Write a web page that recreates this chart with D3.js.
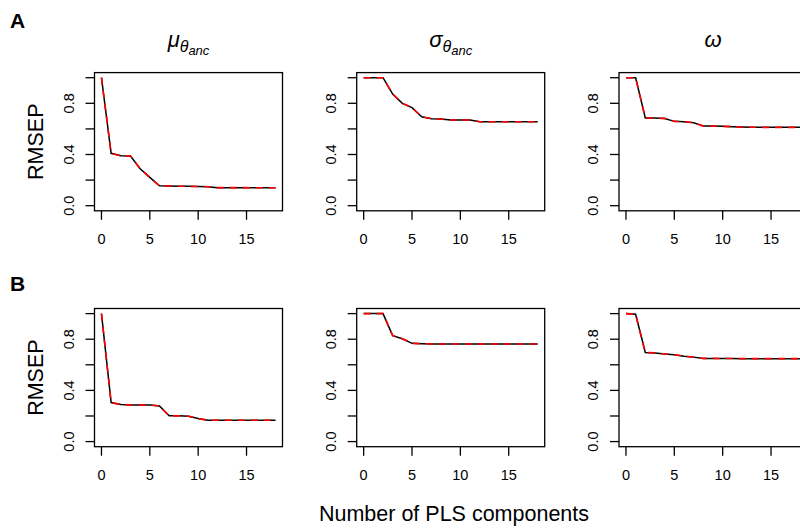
<!DOCTYPE html>
<html>
<head>
<meta charset="utf-8">
<script src="https://cdn.jsdelivr.net/npm/d3@7"></script>
<style>
  body { margin: 0; background: #fff; }
  svg { font-family: "Liberation Sans", Arial, sans-serif; }
</style>
</head>
<body>
<div id="chart"></div>
<script>
// number of PLS components
var comps = d3.range(0, 19);

// RMSEP, row A (CV and adjCV)
var muCV_A    = [1.00, 0.409, 0.390, 0.388, 0.289, 0.221, 0.156, 0.154, 0.152, 0.151, 0.150, 0.148, 0.141, 0.141, 0.141, 0.141, 0.140, 0.140, 0.140];
var muAdj_A   = [1.00, 0.409, 0.390, 0.388, 0.289, 0.221, 0.156, 0.154, 0.152, 0.151, 0.150, 0.148, 0.141, 0.141, 0.141, 0.141, 0.140, 0.140, 0.140];
var sigCV_A   = [1.00, 1.00, 1.00, 0.872, 0.800, 0.766, 0.695, 0.680, 0.677, 0.669, 0.669, 0.669, 0.656, 0.656, 0.656, 0.656, 0.656, 0.656, 0.656];
var sigAdj_A  = [1.00, 1.00, 1.00, 0.872, 0.800, 0.766, 0.695, 0.680, 0.677, 0.669, 0.669, 0.669, 0.656, 0.656, 0.656, 0.656, 0.656, 0.656, 0.656];
var omCV_A    = [1.00, 1.00, 0.685, 0.685, 0.682, 0.659, 0.656, 0.648, 0.622, 0.622, 0.620, 0.617, 0.615, 0.613, 0.612, 0.612, 0.612, 0.612, 0.612];
var omAdj_A   = [1.00, 1.00, 0.685, 0.685, 0.682, 0.659, 0.656, 0.648, 0.622, 0.622, 0.620, 0.617, 0.615, 0.613, 0.612, 0.612, 0.612, 0.612, 0.612];

// RMSEP, row B
var muCV_B    = [1.00, 0.305, 0.290, 0.285, 0.285, 0.285, 0.279, 0.201, 0.201, 0.198, 0.180, 0.167, 0.167, 0.167, 0.167, 0.167, 0.167, 0.167, 0.167];
var muAdj_B   = [1.00, 0.305, 0.290, 0.285, 0.285, 0.285, 0.279, 0.201, 0.201, 0.198, 0.180, 0.167, 0.167, 0.167, 0.167, 0.167, 0.167, 0.167, 0.167];
var sigCV_B   = [1.00, 1.00, 1.00, 0.828, 0.804, 0.768, 0.765, 0.763, 0.762, 0.762, 0.762, 0.762, 0.762, 0.762, 0.762, 0.762, 0.762, 0.762, 0.762];
var sigAdj_B  = [1.00, 1.00, 1.00, 0.828, 0.804, 0.768, 0.765, 0.763, 0.762, 0.762, 0.762, 0.762, 0.762, 0.762, 0.762, 0.762, 0.762, 0.762, 0.762];
var omCV_B    = [1.00, 0.995, 0.696, 0.693, 0.685, 0.678, 0.667, 0.660, 0.650, 0.650, 0.649, 0.649, 0.648, 0.648, 0.648, 0.648, 0.648, 0.648, 0.648];
var omAdj_B   = [1.00, 0.995, 0.696, 0.693, 0.685, 0.678, 0.667, 0.660, 0.650, 0.650, 0.649, 0.649, 0.648, 0.648, 0.648, 0.648, 0.648, 0.648, 0.648];

var xTicks = [0, 5, 10, 15];
var yTicks = [0, 0.2, 0.4, 0.6, 0.8, 1.0];
var yLabelled = [0, 0.4, 0.8];
var rowLabels = ["A", "B"];

var width = 800, height = 532;
var boxW = 188, boxH = 138.2;
var colLeft = [94.5, 356.7, 619];
var rowTop = [72.6, 308.5];

var panels = [
  [{cv: muCV_A, adj: muAdj_A}, {cv: sigCV_A, adj: sigAdj_A}, {cv: omCV_A, adj: omAdj_A}],
  [{cv: muCV_B, adj: muAdj_B}, {cv: sigCV_B, adj: sigAdj_B}, {cv: omCV_B, adj: omAdj_B}]
];

var svg = d3.select("#chart").append("svg")
  .attr("width", width)
  .attr("height", height);

// R style scales: 4% padding on each side
var x = d3.scaleLinear().domain([-0.72, 18.72]).range([0, boxW]);
var y = d3.scaleLinear().domain([-0.04, 1.04]).range([boxH, 0]);

var line = d3.line()
  .x(function(d, i) { return x(comps[i]); })
  .y(function(d) { return y(d); });

panels.forEach(function(row, r) {
  row.forEach(function(p, c) {
    var g = svg.append("g")
      .attr("transform", "translate(" + colLeft[c] + "," + rowTop[r] + ")");

    g.append("path")
      .attr("d", line(p.cv))
      .attr("fill", "none")
      .attr("stroke", "#000")
      .attr("stroke-width", 1.5);

    g.append("path")
      .attr("d", line(p.adj))
      .attr("fill", "none")
      .attr("stroke", "#ff0000")
      .attr("stroke-width", 1.6)
      .attr("stroke-dasharray", "7,6");

    g.append("rect")
      .attr("width", boxW)
      .attr("height", boxH)
      .attr("fill", "none")
      .attr("stroke", "#000")
      .attr("stroke-width", 1.3);

    // x axis ticks
    var xa = g.append("g").attr("transform", "translate(0," + boxH + ")");
    xa.selectAll("line").data(xTicks).enter().append("line")
      .attr("x1", function(d) { return x(d); })
      .attr("x2", function(d) { return x(d); })
      .attr("y1", 0).attr("y2", 9)
      .attr("stroke", "#000").attr("stroke-width", 1.3);
    xa.selectAll("text").data(xTicks).enter().append("text")
      .attr("x", function(d) { return x(d); })
      .attr("y", 33.5)
      .attr("text-anchor", "middle")
      .style("font-size", "14.5px")
      .text(function(d) { return d; });

    // y axis ticks
    var ya = g.append("g");
    ya.selectAll("line").data(yTicks).enter().append("line")
      .attr("x1", -9).attr("x2", 0)
      .attr("y1", function(d) { return y(d); })
      .attr("y2", function(d) { return y(d); })
      .attr("stroke", "#000").attr("stroke-width", 1.3);
    ya.selectAll("text").data(yLabelled).enter().append("text")
      .attr("transform", function(d) { return "translate(-21," + y(d) + ") rotate(-90)"; })
      .attr("text-anchor", "middle")
      .style("font-size", "14.5px")
      .text(function(d) { return d3.format(".1f")(d); });
  });

  // RMSEP label
  svg.append("text")
    .attr("transform", "translate(42.7," + (rowTop[r] + boxH / 2) + ") rotate(-90)")
    .attr("text-anchor", "middle")
    .style("font-size", "21.5px")
    .text("RMSEP");

  // row letter
  svg.append("text")
    .attr("x", 10)
    .attr("y", r === 0 ? 28 : 291)
    .style("font-size", "21px")
    .style("font-weight", "bold")
    .text(rowLabels[r]);
});

// column titles
var titles = [
  {main: "\u03bc", sub: "\u03b8", subItal: "anc"},
  {main: "\u03c3", sub: "\u03b8", subItal: "anc"},
  {main: "\u03c9", sub: null}
];
titles.forEach(function(t, c) {
  var txt = svg.append("text")
    .attr("x", colLeft[c] + boxW / 2)
    .attr("y", 47)
    .attr("text-anchor", "middle")
    .style("font-style", "italic")
    .style("font-size", "22px");
  txt.append("tspan").text(t.main);
  if (t.sub) {
    txt.append("tspan")
      .attr("dy", 5)
      .style("font-size", "16px")
      .text(t.sub);
    txt.append("tspan")
      .attr("dy", 3)
      .style("font-size", "13px")
      .text(t.subItal);
  }
});

svg.append("text")
  .attr("x", 454)
  .attr("y", 521)
  .attr("text-anchor", "middle")
  .style("font-size", "21.5px")
  .text("Number of PLS components");
</script>
</body>
</html>
